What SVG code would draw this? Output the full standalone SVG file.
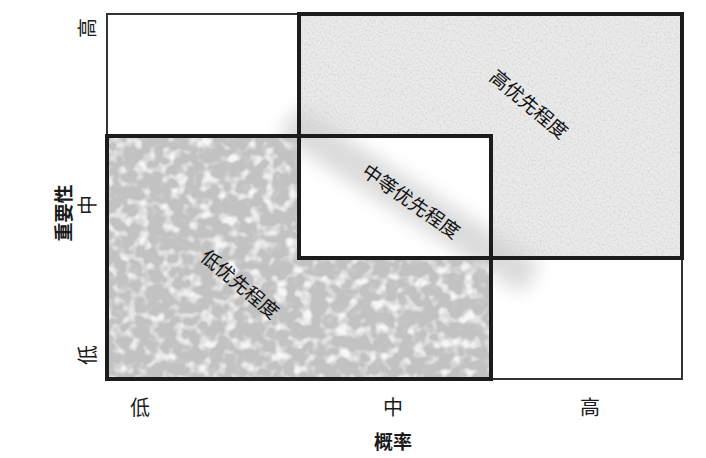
<svg xmlns="http://www.w3.org/2000/svg" width="706" height="458" viewBox="0 0 706 458">
<style>
.lbl{font-family:"Noto Sans CJK SC",sans-serif;font-size:20px;fill:#1a1a1a;text-anchor:middle;dominant-baseline:central}
.ttl{font-family:"Noto Sans CJK SC",sans-serif;font-size:19px;font-weight:bold;fill:#1a1a1a;text-anchor:middle;dominant-baseline:central}
.inner{font-family:"Noto Sans CJK SC",sans-serif;font-size:19px;fill:#111;text-anchor:middle;dominant-baseline:central}
.thick{fill:none;stroke:#1c1c1c;stroke-width:4}
</style>
<defs>
<filter id="speckle" x="0" y="0" width="100%" height="100%">
<feTurbulence type="fractalNoise" baseFrequency="0.9" numOctaves="2" seed="3" result="n"/>
<feColorMatrix in="n" type="matrix" values="0 0 0 0 0.8  0 0 0 0 0.8  0 0 0 0 0.8  -1.6 0 0 0 1.0" result="c"/>
<feFlood flood-color="#ebebeb" result="bg"/>
<feComposite in="c" in2="bg" operator="over" result="m"/>
<feTurbulence type="fractalNoise" baseFrequency="0.5" numOctaves="1" seed="7" result="n2"/>
<feColorMatrix in="n2" type="matrix" values="0 0 0 0 0.68  0 0 0 0 0.68  0 0 0 0 0.68  2.5 0 0 0 -1.05" result="d"/>
<feComposite in="d" in2="m" operator="over"/>
</filter>
<filter id="drops" x="0" y="0" width="100%" height="100%">
<feTurbulence type="fractalNoise" baseFrequency="0.08" numOctaves="2" seed="11" result="n"/>
<feColorMatrix in="n" type="matrix" values="0 0 0 0 0.92  0 0 0 0 0.92  0 0 0 0 0.92  3.5 0 0 0 -1.7" result="hi"/>
<feFlood flood-color="#c2c2c2" result="bg"/>
<feComposite in="hi" in2="bg" operator="over" result="m"/>
<feTurbulence type="fractalNoise" baseFrequency="0.12" numOctaves="1" seed="5" result="n2"/>
<feColorMatrix in="n2" type="matrix" values="0 0 0 0 0.62  0 0 0 0 0.62  0 0 0 0 0.62  -3.5 0 0 0 1.35" result="sh"/>
<feComposite in="sh" in2="m" operator="over"/>
</filter>
<filter id="soft" x="-30%" y="-150%" width="160%" height="400%">
<feGaussianBlur stdDeviation="9"/>
</filter>
</defs>

<rect x="0" y="0" width="706" height="458" fill="#ffffff"/>

<g id="grid">
<rect x="107" y="14" width="575" height="365" fill="#ffffff" stroke="#333" stroke-width="2"/>
</g>

<g id="high-priority">
<rect x="299" y="14" width="383" height="244" fill="#e2e2e2" filter="url(#speckle)"/>
</g>

<g id="low-priority">
<rect x="107" y="136" width="384" height="243" fill="#c2c2c2" filter="url(#drops)"/>
</g>

<g id="medium-priority">
<rect x="299" y="136" width="192" height="122" fill="#ffffff"/>
<g transform="rotate(33 410 200)">
<rect x="265" y="182" width="290" height="36" fill="#cfcfcf" opacity="0.75" filter="url(#soft)"/>
</g>
</g>

<g id="borders">
<rect x="299" y="14" width="383" height="244" class="thick"/>
<rect x="107" y="136" width="384" height="243" class="thick"/>
<rect x="299" y="136" width="192" height="122" class="thick"/>
</g>

<g id="region-labels">
<text class="inner" transform="translate(530,103) rotate(40)">高优先程度</text>
<text class="inner" transform="translate(412,200) rotate(35)">中等优先程度</text>
<text class="inner" transform="translate(241,283) rotate(40)">低优先程度</text>
</g>

<g id="axes">
<text class="lbl" x="140" y="406">低</text>
<text class="lbl" x="393" y="406">中</text>
<text class="lbl" x="590" y="406">高</text>
<text class="ttl" x="393" y="440">概率</text>
<text class="lbl" transform="translate(86,28) rotate(-90)">高</text>
<text class="lbl" transform="translate(86,205) rotate(-90)">中</text>
<text class="lbl" transform="translate(86,355) rotate(-90)">低</text>
<text class="ttl" transform="translate(62,213) rotate(-90)">重要性</text>
</g>
</svg>
